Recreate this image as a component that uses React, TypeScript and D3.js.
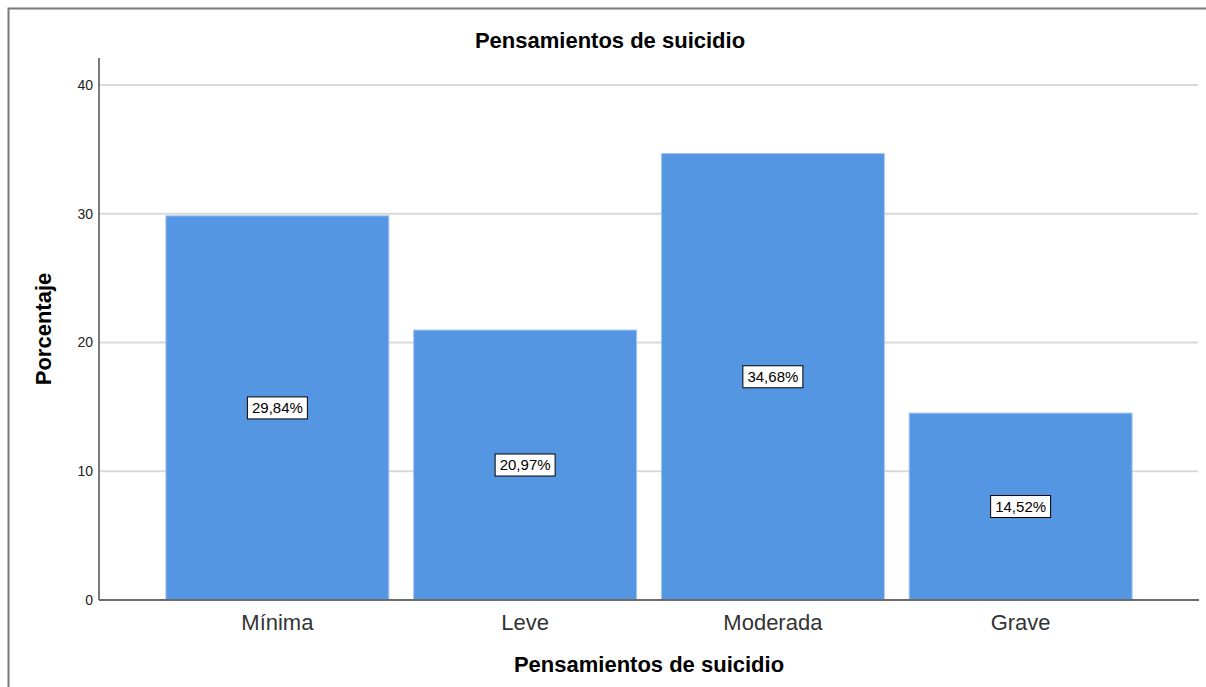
import React, { useEffect, useRef } from "react";
import * as d3 from "d3";

const categories = ["Mínima", "Leve", "Moderada", "Grave"];
const percentages = [29.84, 20.97, 34.68, 14.52];
const valueLabels = ["29,84%", "20,97%", "34,68%", "14,52%"];
const yTicks = [0, 10, 20, 30, 40];

const W = 1206;
const H = 687;
const FONT = "Arial, 'Liberation Sans', sans-serif";

const App: React.FC = () => {
  const ref = useRef<SVGSVGElement | null>(null);

  useEffect(() => {
    if (!ref.current) return;
    const svg = d3.select(ref.current);
    svg.selectAll("*").remove();

    const left = 99;
    const right = 1199;
    const bottom = 600;
    const top = 58;

    const x = d3
      .scaleBand<string>()
      .domain(categories)
      .range([left, right])
      .paddingInner(0.1)
      .paddingOuter(0.27);
    const y = d3.scaleLinear().domain([0, 42.1]).range([bottom, top]);

    svg.append("rect").attr("width", W).attr("height", H).attr("fill", "#fff");

    // outer frame
    svg
      .append("path")
      .attr("d", `M8.5,${H} L8.5,8.5 L${W},8.5`)
      .attr("fill", "none")
      .attr("stroke", "#7a7a7a")
      .attr("stroke-width", 2);

    // gridlines
    svg
      .append("g")
      .selectAll("line")
      .data(yTicks.filter((t) => t > 0))
      .enter()
      .append("line")
      .attr("x1", left)
      .attr("x2", right - 1)
      .attr("y1", (d) => y(d))
      .attr("y2", (d) => y(d))
      .attr("stroke", "#d9d9d9")
      .attr("stroke-width", 2);

    // bars
    svg
      .append("g")
      .selectAll("rect")
      .data(percentages)
      .enter()
      .append("rect")
      .attr("x", (d, i) => x(categories[i])!)
      .attr("y", (d) => y(d))
      .attr("width", x.bandwidth())
      .attr("height", (d) => bottom - y(d))
      .attr("fill", "#5596e3")
      .attr("stroke", "#a3c6f0")
      .attr("stroke-width", 1);

    // axes
    svg
      .append("line")
      .attr("x1", left)
      .attr("x2", left)
      .attr("y1", top)
      .attr("y2", bottom)
      .attr("stroke", "#7a7a7a")
      .attr("stroke-width", 2);
    svg
      .append("line")
      .attr("x1", left)
      .attr("x2", right)
      .attr("y1", bottom)
      .attr("y2", bottom)
      .attr("stroke", "#6a6a6a")
      .attr("stroke-width", 2);

    // y tick labels
    svg
      .append("g")
      .selectAll("text")
      .data(yTicks)
      .enter()
      .append("text")
      .attr("x", left - 6)
      .attr("y", (d) => y(d))
      .attr("dy", "0.35em")
      .attr("text-anchor", "end")
      .attr("font-family", FONT)
      .attr("font-size", 14)
      .attr("fill", "#222")
      .text((d) => d);

    // x tick labels
    svg
      .append("g")
      .selectAll("text")
      .data(categories)
      .enter()
      .append("text")
      .attr("x", (d) => x(d)! + x.bandwidth() / 2)
      .attr("y", bottom + 30)
      .attr("text-anchor", "middle")
      .attr("font-family", FONT)
      .attr("font-size", 22)
      .attr("fill", "#333")
      .text((d) => d);

    // value labels
    const lbl = svg
      .append("g")
      .selectAll("g")
      .data(percentages)
      .enter()
      .append("g")
      .attr(
        "transform",
        (d, i) =>
          `translate(${x(categories[i])! + x.bandwidth() / 2},${y(d / 2)})`
      );
    lbl
      .append("rect")
      .attr("x", -30)
      .attr("y", -11)
      .attr("width", 60)
      .attr("height", 22)
      .attr("fill", "#fff")
      .attr("stroke", "#000")
      .attr("stroke-width", 1);
    lbl
      .append("text")
      .attr("text-anchor", "middle")
      .attr("dy", "0.36em")
      .attr("font-family", FONT)
      .attr("font-size", 15)
      .attr("fill", "#000")
      .text((d, i) => valueLabels[i]);

    // titles
    svg
      .append("text")
      .attr("x", 610)
      .attr("y", 48)
      .attr("text-anchor", "middle")
      .attr("font-family", FONT)
      .attr("font-size", 22)
      .attr("font-weight", "bold")
      .attr("fill", "#000")
      .text("Pensamientos de suicidio");
    svg
      .append("text")
      .attr("x", 649)
      .attr("y", 672)
      .attr("text-anchor", "middle")
      .attr("font-family", FONT)
      .attr("font-size", 22)
      .attr("font-weight", "bold")
      .attr("fill", "#000")
      .text("Pensamientos de suicidio");
    svg
      .append("text")
      .attr("transform", `translate(51,329) rotate(-90)`)
      .attr("text-anchor", "middle")
      .attr("font-family", FONT)
      .attr("font-size", 22)
      .attr("font-weight", "bold")
      .attr("fill", "#000")
      .text("Porcentaje");
  }, []);

  return (
    <svg
      ref={ref}
      width={W}
      height={H}
      style={{ position: "absolute", left: 0, top: 0, display: "block" }}
    ></svg>
  );
};

export default App;
